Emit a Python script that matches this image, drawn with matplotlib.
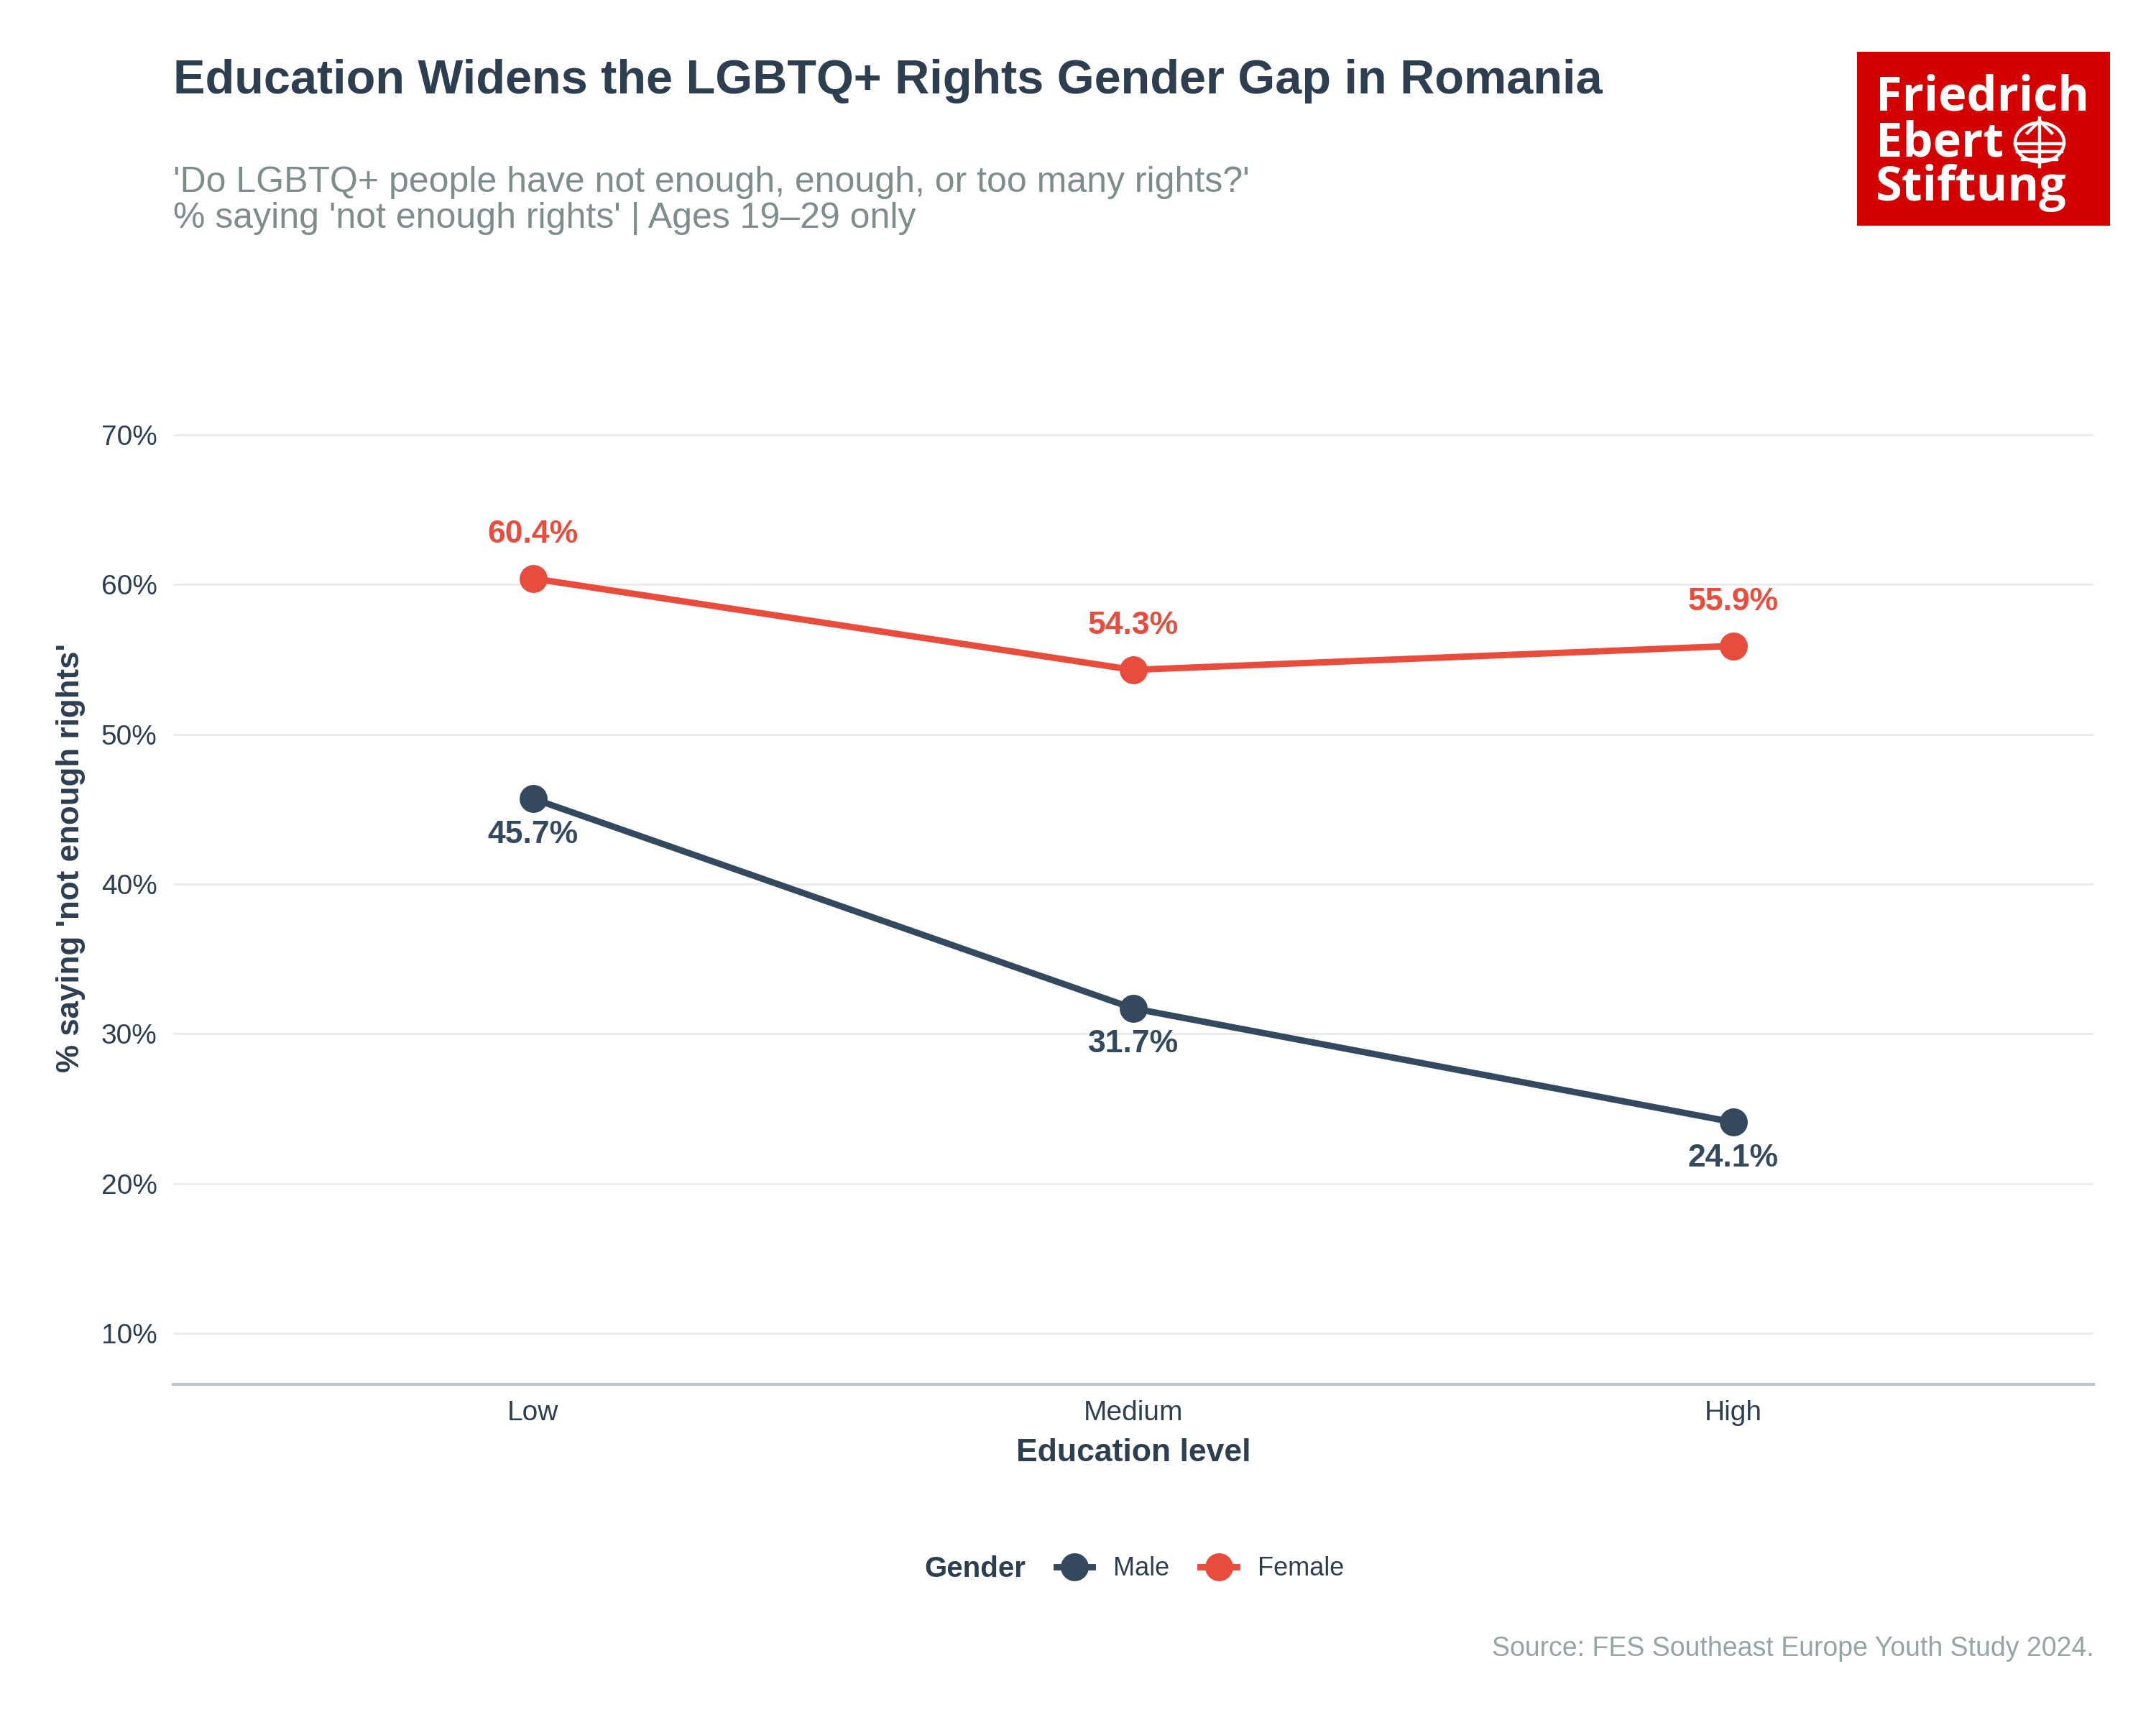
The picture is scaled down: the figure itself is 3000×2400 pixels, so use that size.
import matplotlib.pyplot as plt
from matplotlib.lines import Line2D
from matplotlib.patches import Rectangle, Circle
import numpy as np

plt.rcParams['font.family'] = ['Liberation Sans', 'DejaVu Sans']

# data
education = ['Low', 'Medium', 'High']
male = [45.7, 31.7, 24.1]
female = [60.4, 54.3, 55.9]
yticks = [10, 20, 30, 40, 50, 60, 70]

dark = '#2c3e50'
male_col = '#34495e'
female_col = '#e74c3c'

fig = plt.figure(figsize=(15, 12), dpi=200)
ax = fig.add_axes([0.0803, 0.1975, 0.8907, 0.58])

x = np.arange(len(education))
ax.plot(x, male, color=male_col, lw=3.2, marker='o', ms=13, zorder=3)
ax.plot(x, female, color=female_col, lw=3.2, marker='o', ms=13, zorder=3)

for xi, v in zip(x, female):
    ax.annotate(f'{v:.1f}%', (xi, v), xytext=(0, 22), textcoords='offset points',
                ha='center', va='center', fontsize=16, fontweight='bold', color=female_col)
for xi, v in zip(x, male):
    ax.annotate(f'{v:.1f}%', (xi, v), xytext=(0, -18), textcoords='offset points',
                ha='center', va='center', fontsize=16, fontweight='bold', color=male_col)

ax.set_xlim(-0.6, 2.6)
ax.set_ylim(6.6, 73.4)
ax.set_xticks(x)
ax.set_xticklabels(education)
ax.set_yticks(yticks)
ax.set_yticklabels([f'{t}%' for t in yticks])
ax.tick_params(length=0, labelsize=14, labelcolor=dark, pad=8)
ax.grid(axis='y', color='#ebebeb', lw=1.0)
ax.set_axisbelow(True)
for s in ['top', 'right', 'left']:
    ax.spines[s].set_visible(False)
ax.spines['bottom'].set_color('#bdc3c7')
ax.spines['bottom'].set_linewidth(1.5)

ax.set_xlabel('Education level', fontsize=16, fontweight='bold', color=dark, labelpad=6)
ax.set_ylabel("% saying 'not enough rights'", fontsize=15.8, fontweight='bold', color=dark)
ax.yaxis.set_label_coords(-0.0455, 0.526)

# titles
fig.text(241 / 3000, 1 - 113 / 2400, 'Education Widens the LGBTQ+ Rights Gender Gap in Romania',
         fontsize=24, fontweight='bold', color=dark, ha='left', va='center')
fig.text(241 / 3000, 1 - 279 / 2400,
         "'Do LGBTQ+ people have not enough, enough, or too many rights?'\n% saying 'not enough rights' | Ages 19\u201329 only",
         fontsize=18, color='#7f8c8d', ha='left', va='center', linespacing=1.1)
fig.text(2914 / 3000, 1 - 2294 / 2400, 'Source: FES Southeast Europe Youth Study 2024.',
         fontsize=13.5, color='#95a5a6', ha='right', va='center')

# legend
fig.text(1286 / 3000, 1 - 2183 / 2400, 'Gender', fontsize=14.5, fontweight='bold',
         color=dark, ha='left', va='center')
handles = [Line2D([], [], color=male_col, lw=3.2, marker='o', ms=13),
           Line2D([], [], color=female_col, lw=3.2, marker='o', ms=13)]
fig.legend(handles, ['Male', 'Female'], loc='center left',
           bbox_to_anchor=(1437 / 3000, 1 - 2183 / 2400), ncol=2, frameon=False,
           fontsize=13, handlelength=1.4, handletextpad=0.8, columnspacing=1.2,
           labelcolor=dark)

# logo
W, H = 3000, 2400
fig.patches.append(Rectangle((2584 / W, 1 - 314 / H), (2936 - 2584) / W, (314 - 72) / H,
                             transform=fig.transFigure, facecolor='#d40000', edgecolor='none'))
for txt, base in [('Friedrich', 153), ('Ebert', 217), ('Stiftung', 279)]:
    fig.text(2610 / W, 1 - base / H, txt, fontsize=24, fontweight='bold', color='white',
             family='Open Sans', ha='left', va='baseline')
cx, cy, r = 2838, 198, 34
fig.patches.append(Circle((cx / W, 1 - cy / H), r / W, transform=fig.transFigure,
                          facecolor='none', edgecolor='white', lw=1.6))
lines = [
    ((cx, cx), (cy - r, cy + r)),
    ((cx - 17, cx), (cy - r + 21, cy - r + 4)),
    ((cx, cx + 17), (cy - r + 4, cy - r + 21)),
]
for dy in [2, 13, 24]:
    half = np.sqrt(max(r ** 2 - dy ** 2, 0))
    lines.append(((cx - half, cx + half), (cy + dy, cy + dy)))
for xs, ys in lines:
    fig.add_artist(Line2D([v / W for v in xs], [1 - v / H for v in ys],
                          transform=fig.transFigure, color='white', lw=1.6))

fig.savefig('out.png', dpi=200, facecolor='white')
